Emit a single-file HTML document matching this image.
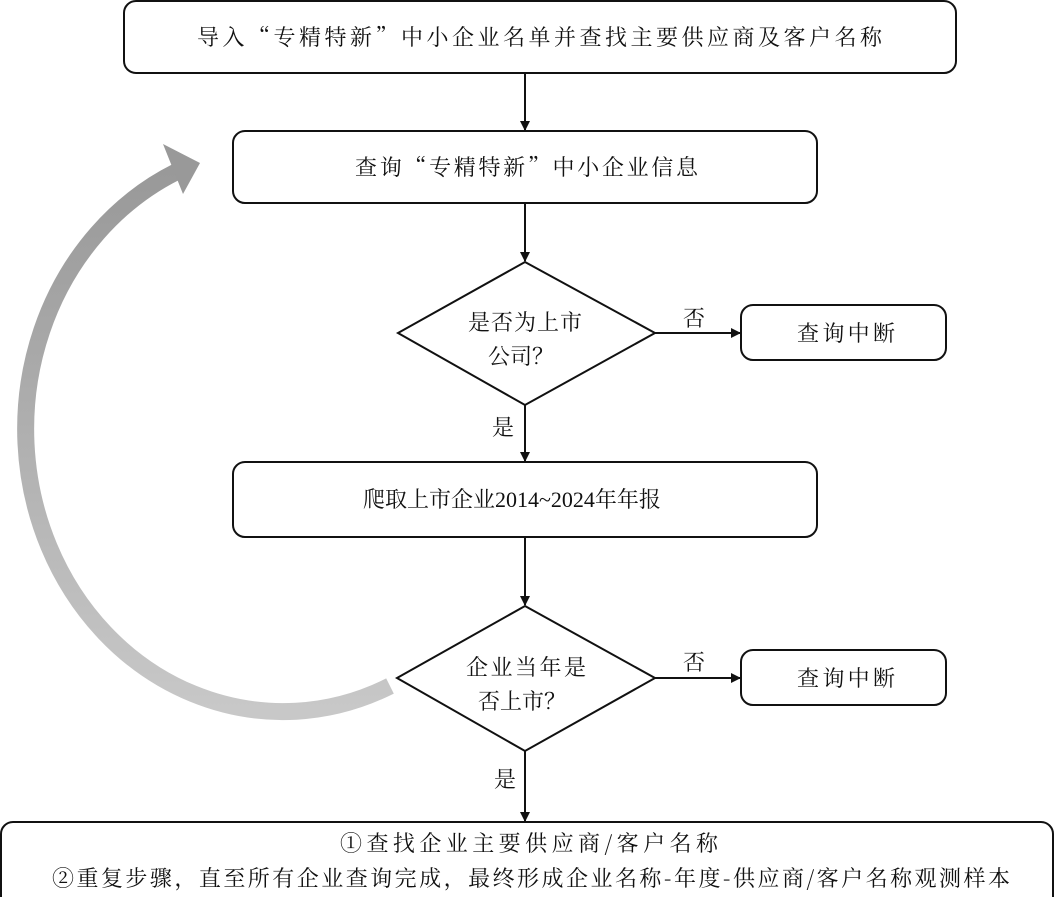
<!DOCTYPE html>
<html><head><meta charset="utf-8"><style>
body{margin:0;background:#fff;}
svg text{font-family:"Noto Serif CJK SC","Liberation Serif",serif;font-size:22px;fill:#111;}
.l{font-family:"Liberation Serif",serif;}
</style></head><body>
<svg width="1056" height="897" viewBox="0 0 1056 897" xmlns="http://www.w3.org/2000/svg">
<defs>
<linearGradient id="g" x1="0" y1="1" x2="0" y2="0">
<stop offset="0" stop-color="#c8c8c8"/><stop offset="0.5" stop-color="#b0b0b0"/><stop offset="1" stop-color="#999"/>
</linearGradient>
<marker id="a" markerWidth="10" markerHeight="10" refX="9" refY="5" orient="auto" markerUnits="userSpaceOnUse">
<path d="M0,0 L10,5 L0,10 Z" fill="#111"/></marker>
</defs>
<path d="M390 686 A255 280 0 0 1 176 172" fill="none" stroke="url(#g)" stroke-width="17"/>
<polygon points="200,163 163,144 183,194" fill="#999"/>
<g fill="none" stroke="#111" stroke-width="2">
<rect x="124" y="1" width="832" height="72" rx="12"/>
<rect x="233" y="131" width="584" height="72" rx="12"/>
<polygon points="525,262 655,333 525,405 398,333"/>
<rect x="741" y="305" width="205" height="55" rx="12"/>
<rect x="233" y="462" width="584" height="75" rx="12"/>
<polygon points="525,606 655,678 525,751 397,678"/>
<rect x="741" y="650" width="205" height="55" rx="12"/>
<rect x="1" y="822" width="1052" height="90" rx="12"/>
<line x1="525" y1="73" x2="525" y2="130" marker-end="url(#a)"/>
<line x1="525" y1="203" x2="525" y2="261" marker-end="url(#a)"/>
<line x1="525" y1="405" x2="525" y2="461" marker-end="url(#a)"/>
<line x1="525" y1="537" x2="525" y2="605" marker-end="url(#a)"/>
<line x1="525" y1="751" x2="525" y2="821" marker-end="url(#a)"/>
<line x1="655" y1="333" x2="740" y2="333" marker-end="url(#a)"/>
<line x1="655" y1="678" x2="740" y2="678" marker-end="url(#a)"/>
</g>
<text x="197" y="45" textLength="685" lengthAdjust="spacing">导入“专精特新”中小企业名单并查找主要供应商及客户名称</text>
<text x="355" y="175" textLength="343" lengthAdjust="spacing">查询“专精特新”中小企业信息</text>
<text x="468" y="330" textLength="114" lengthAdjust="spacing">是否为上市</text>
<text x="488" y="364">公司？</text>
<text x="683" y="326">否</text>
<text x="797" y="341" textLength="98" lengthAdjust="spacing">查询中断</text>
<text x="492" y="435">是</text>
<text x="363" y="507">爬取上市企业<tspan class="l">2014~2024</tspan>年年报</text>
<text x="466" y="675" textLength="120" lengthAdjust="spacing">企业当年是</text>
<text x="478" y="709">否上市？</text>
<text x="683" y="670">否</text>
<text x="797" y="686" textLength="98" lengthAdjust="spacing">查询中断</text>
<text x="494" y="787">是</text>
<text x="340" y="851" textLength="378" lengthAdjust="spacing">①查找企业主要供应商/客户名称</text>
<text x="52" y="886" textLength="958" lengthAdjust="spacing">②重复步骤，直至所有企业查询完成，最终形成企业名称-年度-供应商/客户名称观测样本</text>
</svg>
</body></html>
